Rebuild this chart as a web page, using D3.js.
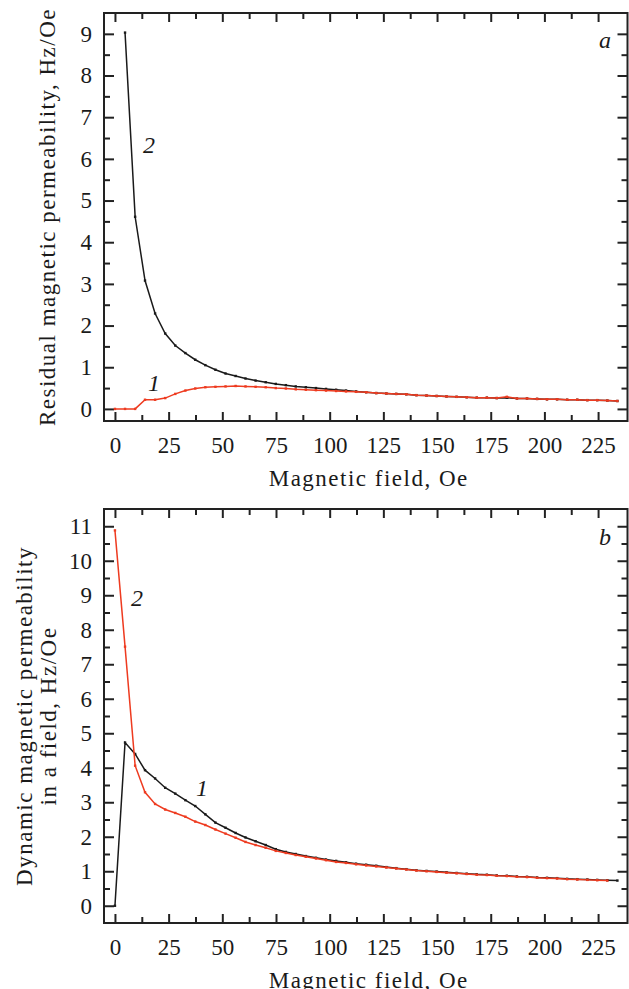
<!DOCTYPE html>
<html>
<head>
<meta charset="utf-8">
<script src="https://cdn.jsdelivr.net/npm/d3@7"></script>
<style>
  body { margin: 0; background: #fff; }
</style>
</head>
<body>
<div id="chart"></div>
<script>
"use strict";

// field values (Oe) shared by all curves
var field = [0, 4.7, 9.4, 14.0, 18.7, 23.4, 28.1, 32.8, 37.4, 42.1, 46.8, 51.5, 56.2, 60.8, 65.5,
             70.2, 74.9, 79.6, 84.2, 88.9, 93.6, 98.3, 103.0, 107.6, 112.3, 117.0, 121.7, 126.4,
             131.0, 135.7, 140.4, 145.1, 149.8, 154.4, 159.1, 163.8, 168.5, 173.2, 177.8, 182.5,
             187.2, 191.9, 196.6, 201.2, 205.9, 210.6, 215.3, 220.0, 224.6, 229.3, 234.0];

// panel a: residual permeability (null = no point)
var residual1 = [0.00, 0.00, 0.00, 0.22, 0.22, 0.26, 0.36, 0.44, 0.49, 0.52, 0.53, 0.54, 0.55, 0.54, 0.53,
                 0.52, 0.50, 0.49, 0.47, 0.46, 0.45, 0.44, 0.43, 0.42, 0.41, 0.40, 0.38, 0.37,
                 0.36, 0.35, 0.33, 0.32, 0.31, 0.30, 0.29, 0.28, 0.27, 0.27, 0.26, 0.29,
                 0.25, 0.25, 0.24, 0.23, 0.23, 0.22, 0.22, 0.21, 0.21, 0.20, 0.19];
var residual2 = [null, 9.03, 4.61, 3.08, 2.29, 1.81, 1.52, 1.34, 1.18, 1.05, 0.94, 0.85, 0.79, 0.73, 0.68,
                 0.64, 0.60, 0.57, 0.54, 0.52, 0.50, 0.48, 0.46, 0.44, 0.42, 0.40, 0.38, 0.37,
                 0.36, 0.35, 0.33, 0.32, 0.31, 0.30, 0.29, 0.28, 0.27, 0.27, 0.26, 0.27,
                 0.25, 0.25, 0.24, 0.23, 0.23, 0.22, 0.22, 0.21, 0.21, 0.20, 0.19];

// panel b: dynamic permeability in a field
var dynamic1 = [0.00, 4.73, 4.40, 3.93, 3.69, 3.42, 3.25, 3.06, 2.89, 2.65, 2.41, 2.26, 2.11, 1.98, 1.87,
                1.76, 1.64, 1.56, 1.50, 1.44, 1.39, 1.34, 1.30, 1.26, 1.22, 1.19, 1.16, 1.12,
                1.09, 1.06, 1.03, 1.01, 0.99, 0.97, 0.95, 0.93, 0.91, 0.90, 0.88, 0.87,
                0.85, 0.84, 0.82, 0.81, 0.80, 0.78, 0.77, 0.76, 0.75, 0.74, 0.73];
var dynamic2 = [10.88, 7.51, 4.06, 3.29, 2.95, 2.79, 2.69, 2.58, 2.44, 2.34, 2.21, 2.09, 1.97, 1.85, 1.76,
                1.68, 1.59, 1.53, 1.47, 1.42, 1.37, 1.32, 1.27, 1.24, 1.20, 1.17, 1.14, 1.11,
                1.08, 1.05, 1.02, 1.00, 0.98, 0.96, 0.94, 0.92, 0.90, 0.89, 0.87, 0.86,
                0.84, 0.83, 0.81, 0.80, 0.79, 0.77, 0.76, 0.75, 0.74, 0.73, null];

var xMajor = [0, 25, 50, 75, 100, 125, 150, 175, 200, 225];
var xMinor = [12.5, 37.5, 62.5, 87.5, 112.5, 137.5, 162.5, 187.5, 212.5];
var yMajorA = [0, 1, 2, 3, 4, 5, 6, 7, 8, 9];
var yMinorA = [0.5, 1.5, 2.5, 3.5, 4.5, 5.5, 6.5, 7.5, 8.5];
var yMajorB = [0, 1, 2, 3, 4, 5, 6, 7, 8, 9, 10, 11];
var yMinorB = [0.5, 1.5, 2.5, 3.5, 4.5, 5.5, 6.5, 7.5, 8.5, 9.5, 10.5];

var width = 629, height = 989;
var black = "#1a1a1a", red = "#ee3b20";
var serif = "Liberation Serif";

var svg = d3.select("#chart").append("svg")
    .attr("width", width)
    .attr("height", height)
    .attr("font-family", serif);

var x = d3.scaleLinear().domain([-5.1, 238.7]).range([104, 627.5]);

function pairs(ys) {
  var out = [];
  ys.forEach(function(v, i) { if (v !== null) out.push([field[i], v]); });
  return out;
}

function panel(opts) {
  var y = d3.scaleLinear().domain(opts.ydom).range([opts.bottom, opts.top]);
  var g = svg.append("g");

  // inward ticks on all four sides
  function ticks(axis, vals, size, tx) {
    var a = g.append("g").attr("transform", tx)
      .call(axis.tickValues(vals).tickSize(size).tickFormat(""));
    a.select(".domain").remove();
    a.selectAll("line").attr("stroke", "#222").attr("stroke-width", 2);
  }
  ticks(d3.axisBottom(x), xMajor, -9, "translate(0," + opts.bottom + ")");
  ticks(d3.axisBottom(x), xMinor, -6, "translate(0," + opts.bottom + ")");
  ticks(d3.axisTop(x), xMajor, -9, "translate(0," + opts.top + ")");
  ticks(d3.axisTop(x), xMinor, -6, "translate(0," + opts.top + ")");
  ticks(d3.axisLeft(y), opts.yMajor, -10, "translate(104,0)");
  ticks(d3.axisLeft(y), opts.yMinor, -6, "translate(104,0)");
  ticks(d3.axisRight(y), opts.yMajor, -10, "translate(627.5,0)");
  ticks(d3.axisRight(y), opts.yMinor, -6, "translate(627.5,0)");

  // tick labels
  var xl = g.append("g").attr("transform", "translate(0," + opts.bottom + ")")
    .call(d3.axisBottom(x).tickValues(xMajor).tickSize(0).tickPadding(16));
  xl.select(".domain").remove();
  xl.attr("font-family", serif).attr("font-size", 23);
  xl.selectAll("text").attr("fill", "#1a1a1a");

  var yl = g.append("g").attr("transform", "translate(104,0)")
    .call(d3.axisLeft(y).tickValues(opts.yMajor).tickSize(0).tickPadding(12));
  yl.select(".domain").remove();
  yl.attr("font-family", serif).attr("font-size", 23);
  yl.selectAll("text").attr("fill", "#1a1a1a");

  // frame
  g.append("rect")
    .attr("x", 104).attr("y", opts.top)
    .attr("width", 627.5 - 104).attr("height", opts.bottom - opts.top)
    .attr("fill", "none").attr("stroke", "#222").attr("stroke-width", 2);

  var line = d3.line().x(function(d) { return x(d[0]); }).y(function(d) { return y(d[1]); });

  opts.series.forEach(function(s) {
    var pts = pairs(s.values);
    g.append("path").datum(pts)
      .attr("d", line)
      .attr("fill", "none")
      .attr("stroke", s.color)
      .attr("stroke-width", 1.5);
    g.selectAll(null).data(pts).enter().append("rect")
      .attr("x", function(d) { return x(d[0]) - 1.2; })
      .attr("y", function(d) { return y(d[1]) - 1.2; })
      .attr("width", 2.4).attr("height", 2.4)
      .attr("fill", s.color);
  });

  opts.notes.forEach(function(n) {
    g.append("text")
      .attr("x", n[1]).attr("y", n[2])
      .attr("text-anchor", "middle")
      .attr("font-family", serif)
      .attr("font-size", 24)
      .attr("font-style", "italic")
      .attr("fill", "#1a1a1a")
      .text(n[0]);
  });

  // axis titles
  g.append("text")
    .attr("x", (104 + 627.5) / 2 + 3).attr("y", opts.bottom + 65)
    .attr("text-anchor", "middle")
    .attr("font-family", serif).attr("font-size", 23)
    .attr("letter-spacing", 1.5)
    .attr("fill", "#1a1a1a")
    .text("Magnetic field, Oe");

  var cy = (opts.top + opts.bottom) / 2;
  opts.ytitle.forEach(function(t) {
    g.append("text")
      .attr("transform", "translate(" + t[1] + "," + cy + ") rotate(-90)")
      .attr("text-anchor", "middle")
      .attr("font-family", serif).attr("font-size", 23)
      .attr("letter-spacing", 1.5)
      .attr("fill", "#1a1a1a")
      .text(t[0]);
  });
}

panel({
  top: 13, bottom: 421, ydom: [-0.29, 9.5],
  yMajor: yMajorA, yMinor: yMinorA,
  series: [{values: residual2, color: black}, {values: residual1, color: red}],
  notes: [["a", 605, 48], ["2", 149, 153], ["1", 154, 391]],
  ytitle: [["Residual magnetic permeability, Hz/Oe", 55]]
});

panel({
  top: 509, bottom: 923, ydom: [-0.5, 11.5],
  yMajor: yMajorB, yMinor: yMinorB,
  series: [{values: dynamic1, color: black}, {values: dynamic2, color: red}],
  notes: [["b", 605, 545], ["2", 137, 606], ["1", 202, 796]],
  ytitle: [["Dynamic magnetic permeability", 32], ["in a field, Hz/Oe", 56]]
});
</script>
</body>
</html>
